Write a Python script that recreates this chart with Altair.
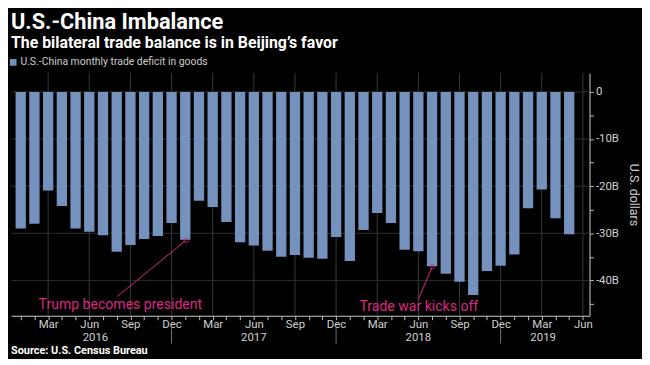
import altair as alt
import pandas as pd

# ---- data ----
month_names = ["Jan", "Feb", "Mar", "Apr", "May", "Jun", "Jul", "Aug", "Sep", "Oct", "Nov", "Dec"]
year_labels = ["2016", "2017", "2018", "2019"]
# monthly U.S.-China trade deficit in goods, billions of USD, Jan 2016 .. May 2019
deficit = [
    -29.0, -28.0, -20.9, -24.2, -29.0, -29.7, -30.4, -33.9, -32.5, -31.2, -30.6, -27.8,
    -31.4, -23.1, -24.4, -27.6, -31.9, -32.6, -33.7, -35.0, -34.6, -35.2, -35.4, -30.8,
    -35.9, -29.3, -25.7, -27.8, -33.5, -33.8, -37.0, -38.6, -40.3, -43.1, -38.0, -36.9,
    -34.5, -24.7, -20.7, -26.8, -30.2,
]
month_index = list(range(len(deficit)))
quarter_ticks = [2, 5, 8, 11, 14, 17, 20, 23, 26, 29, 32, 35, 38, 41]
year_label_pos = [5.45, 17, 29, 38.1]
year_sep_pos = [11, 23, 35]
y_grid_vals = [0, -10, -20, -30, -40]
y_tick_vals = [0, -5, -10, -15, -20, -25, -30, -35, -40, -45]

ann_text = ["Trump becomes president", "Trade war kicks off"]
ann_text_x = [1.3, 24.7]
ann_text_y = [-45.3, -45.6]
ann_line_x = [7.04, 28.98]
ann_line_y = [-43.4, -44.06]
ann_point_x = [12.05, 30.02]
ann_point_y = [-31.5, -37.1]

source_text = "Source: U.S. Census Bureau"

# ---- styling ----
FONT = "Roboto"
BAR = "#7591bd"
PINK = "#dc2882"
W, H = 584, 245

bars_df = pd.DataFrame({"i": month_index, "v": deficit,
                        "s": ["U.S.-China monthly trade deficit in goods"] * len(deficit)})
xgrid_df = pd.DataFrame({"i": quarter_ticks})
ygrid_df = pd.DataFrame({"v": y_grid_vals})
sep_df = pd.DataFrame({"i": year_sep_pos})
year_df = pd.DataFrame({"i": year_label_pos, "t": year_labels})
ann_df = pd.DataFrame({"i": ann_text_x, "v": ann_text_y, "t": ann_text,
                       "i1": ann_line_x, "v1": ann_line_y,
                       "i2": ann_point_x, "v2": ann_point_y})
src_df = pd.DataFrame({"t": [source_text]})

xscale = alt.Scale(domain=[-0.35, 41.12], nice=False, zero=False)
yscale = alt.Scale(domain=[-47.5, 4], nice=False, zero=False)

xaxis = alt.Axis(
    values=list(range(42)),
    labelExpr="datum.value % 3 == 2 ? ['Mar','Jun','Sep','Dec'][floor((datum.value % 12) / 3)] : ''",
    labelOverlap=False, labelFlush=True, grid=False,
    tickSize=4, tickColor="#bbbbbb", domainColor="#cccccc",
    labelBaseline="alphabetic", labelPadding=7.5,
    labelColor="#d0d0d0", labelFontSize=11.5, labelFont=FONT, title=None,
)
yaxis = alt.Axis(
    orient="right", values=y_tick_vals,
    labelExpr="datum.value % 10 == 0 ? (datum.value == 0 ? '0' : datum.value + 'B') : ''",
    labelOverlap=False, grid=False, tickSize=4, tickColor="#bbbbbb",
    domainColor="#cccccc", labelColor="#d0d0d0", labelFontSize=11.5, labelFont=FONT,
    labelPadding=2,
    title="U.S. dollars", titleColor="#d0d0d0", titleFontSize=12.5,
    titleFontWeight="normal", titleFont=FONT, titlePadding=8,
)

X = lambda f: alt.X(f, type="quantitative", scale=xscale, axis=xaxis)
Y = lambda f: alt.Y(f, type="quantitative", scale=yscale, axis=yaxis)

xgrid = alt.Chart(xgrid_df).mark_rule(color="#3a3a3a", strokeWidth=1).encode(
    x=X("i"), y=alt.value(0), y2=alt.value(H))
ygrid = alt.Chart(ygrid_df).mark_rule(color="#2e2e2e", strokeWidth=1).encode(
    y=Y("v"), x=alt.value(0), x2=alt.value(W))

bars = alt.Chart(bars_df).mark_bar(size=10.4).encode(
    x=X("i"), y=Y("v"),
    color=alt.Color("s:N", scale=alt.Scale(range=[BAR]),
                    legend=alt.Legend(orient="none", legendX=-3, legendY=-16, title=None,
                                      symbolType="square", symbolSize=45, symbolStrokeWidth=0,
                                      labelColor="#cccccc", labelFontSize=10.5, labelFont=FONT,
                                      labelOffset=2, labelLimit=0)),
)

seps = alt.Chart(sep_df).mark_rule(color="#777777").encode(
    x=X("i"), y=alt.value(H + 13), y2=alt.value(H + 28))
years = alt.Chart(year_df).mark_text(color="#d0d0d0", fontSize=11.5, font=FONT,
                                     baseline="alphabetic").encode(
    x=X("i"), y=alt.value(H + 25), text="t:N")

ann_lines = alt.Chart(ann_df).mark_rule(color=PINK, strokeWidth=1).encode(
    x=X("i1"), y=Y("v1"), x2="i2", y2="v2")
ann_pts = alt.Chart(ann_df).mark_point(shape="circle", filled=False, color=PINK,
                                       size=22, strokeWidth=1).encode(
    x=X("i2"), y=Y("v2"))
ann_txt = alt.Chart(ann_df).mark_text(color=PINK, fontSize=14.2, font=FONT, align="left",
                                      baseline="middle").encode(
    x=X("i"), y=Y("v"), text="t:N")

src = alt.Chart(src_df).mark_text(color="#ffffff", fontSize=11, font=FONT, fontWeight="bold",
                                  align="left", baseline="alphabetic").encode(
    x=alt.value(0), y=alt.value(H + 39), text="t:N")

chart = alt.layer(xgrid, ygrid, bars, seps, years, ann_lines, ann_pts, ann_txt, src).properties(
    width=W, height=H,
    background="#000000",
    padding={"left": 0, "top": 2, "right": 2, "bottom": 1},
    title=alt.TitleParams(
        text="U.S.-China Imbalance",
        subtitle="The bilateral trade balance is in Beijing’s favor",
        anchor="start", frame="group", font=FONT, subtitleFont=FONT,
        fontSize=22, fontWeight="bold", color="#ffffff",
        subtitleFontSize=16, subtitleFontWeight="bold", subtitleColor="#ffffff",
        subtitlePadding=1, offset=5,
    ),
).configure_view(stroke=None)

chart.save("out.html", embed_options={"renderer": "svg", "actions": False})
